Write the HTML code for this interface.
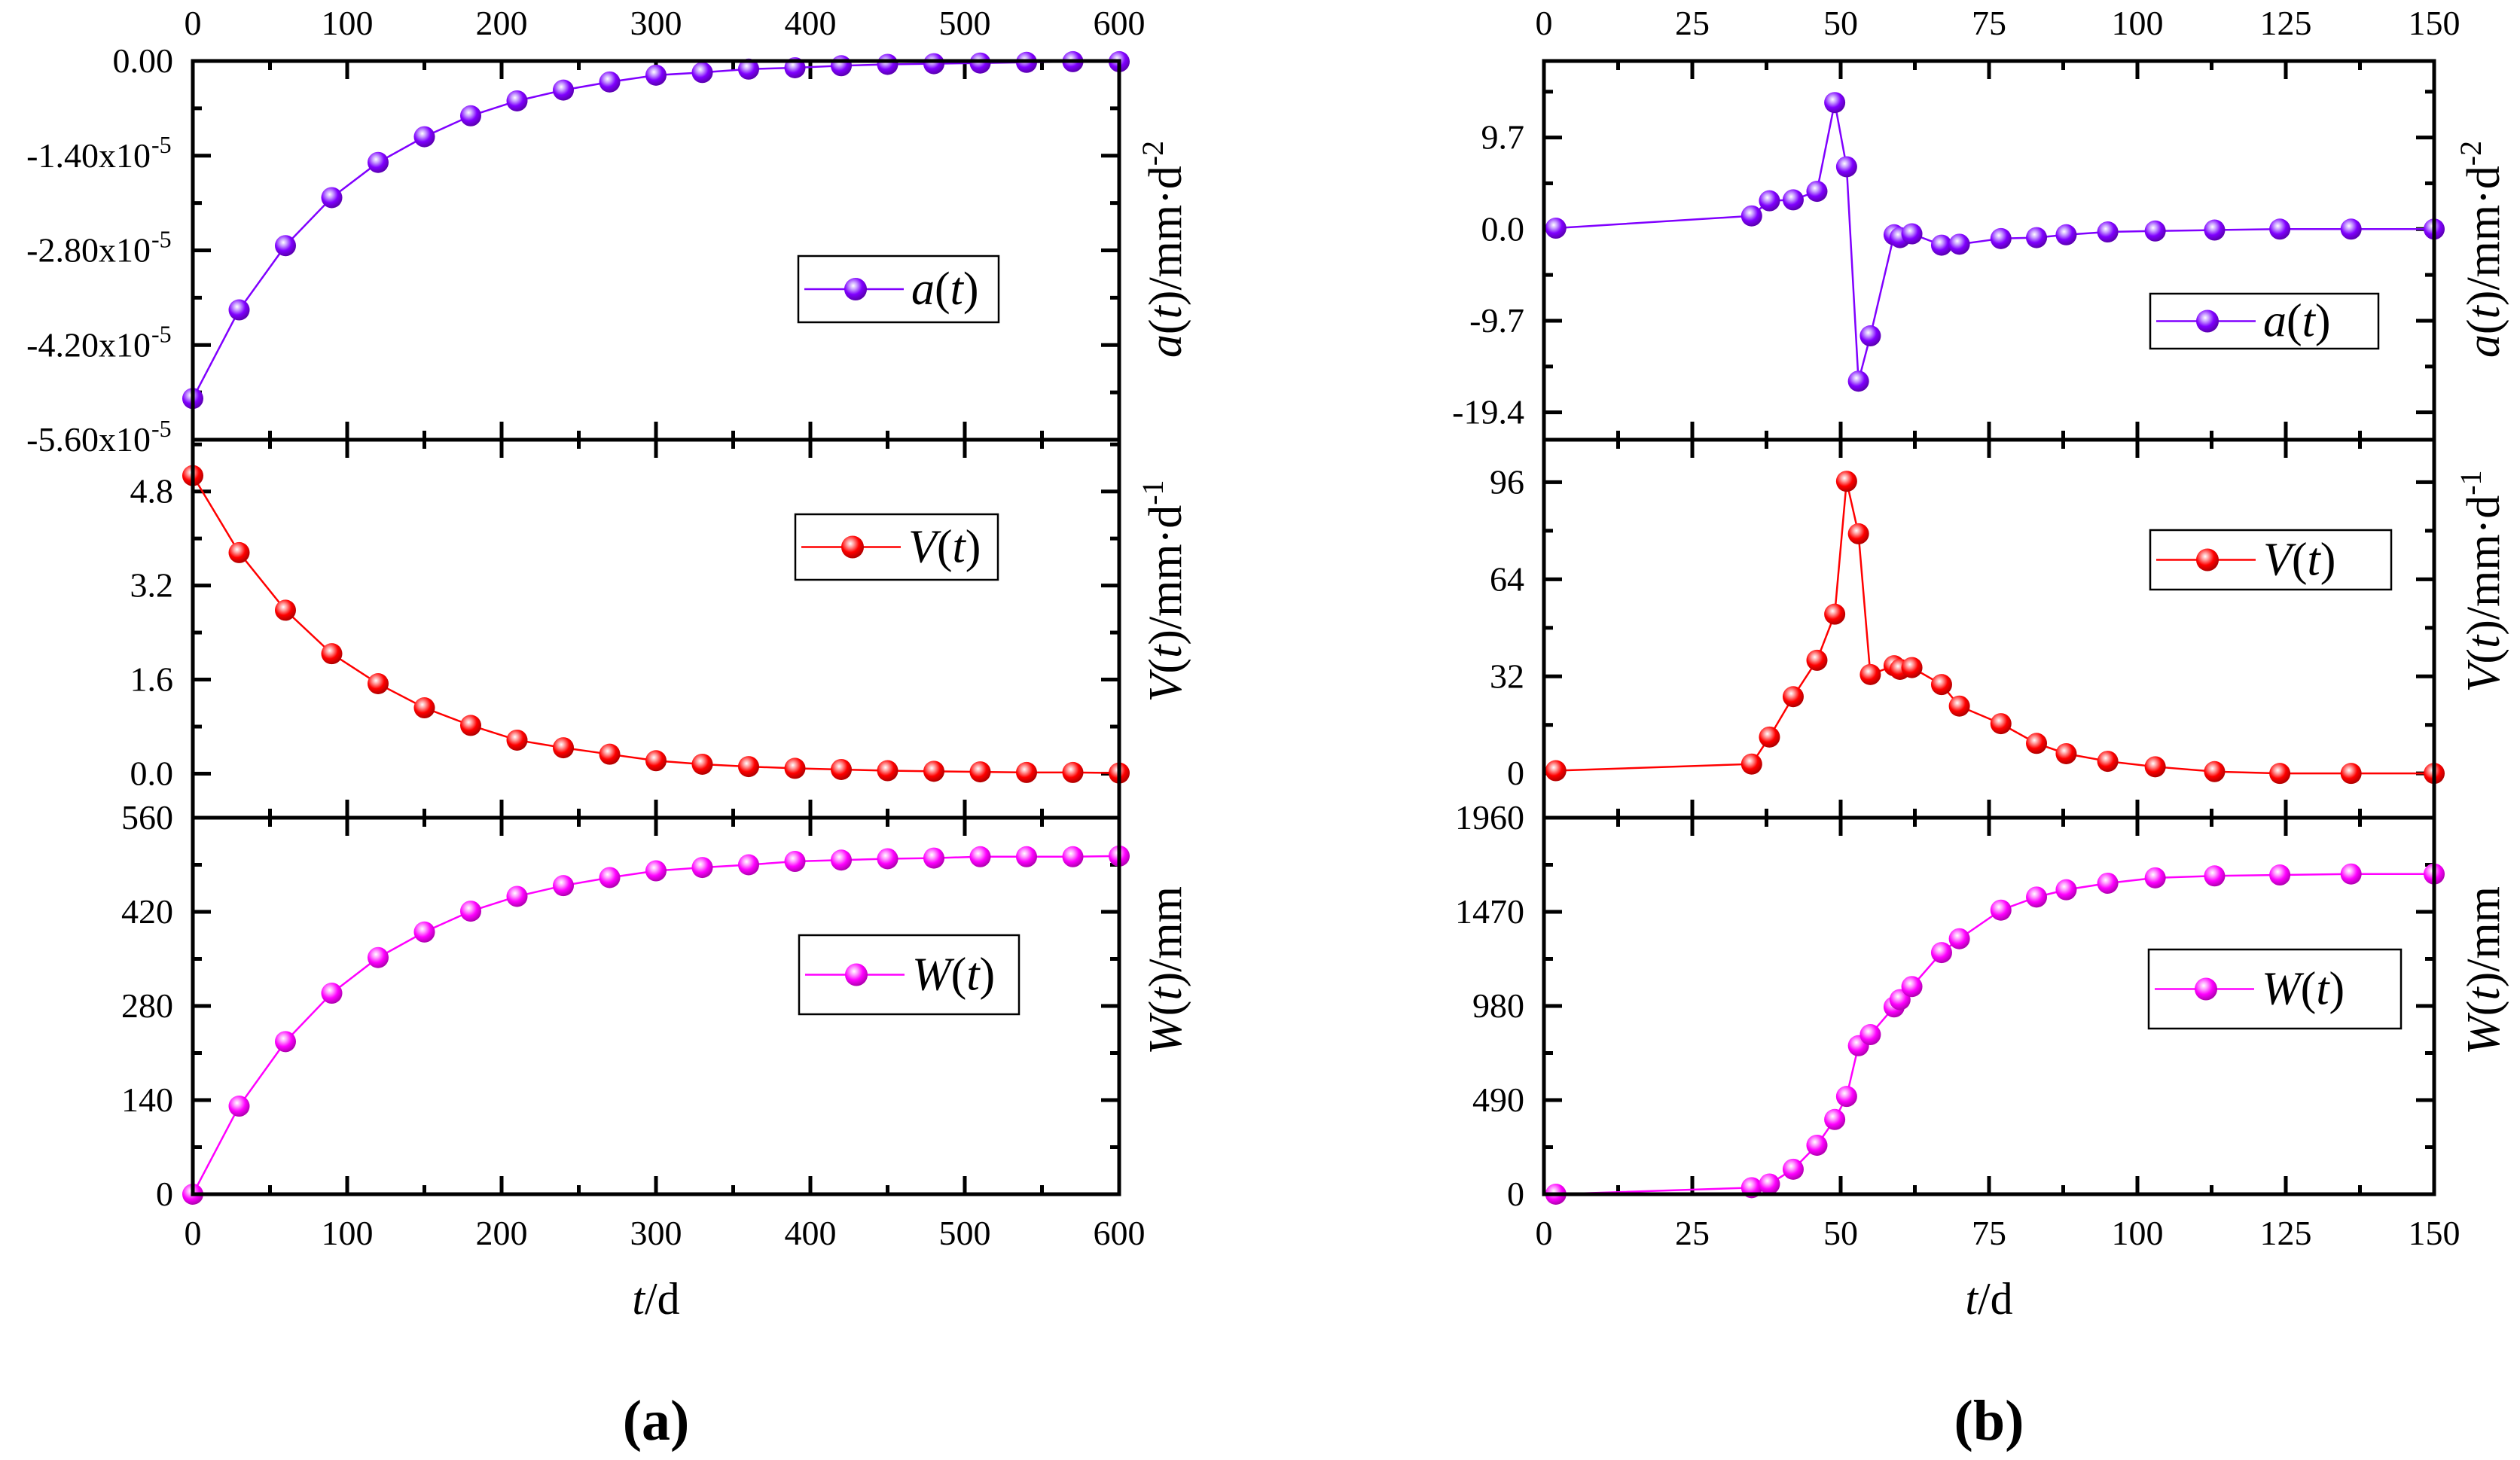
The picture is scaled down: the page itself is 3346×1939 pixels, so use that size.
<!DOCTYPE html>
<html><head><meta charset="utf-8"><style>
html,body{margin:0;padding:0;background:#fff}
svg{display:block}
svg text{font-family:"Liberation Serif","DejaVu Serif","Times New Roman",serif;fill:#000}
</style></head><body>
<svg id="fig" width="3346" height="1939" viewBox="0 0 3346 1939" xmlns="http://www.w3.org/2000/svg">
<defs>
<radialGradient id="gP" cx="0.4" cy="0.35" r="0.65"><stop offset="0" stop-color="#fff"/><stop offset="0.25" stop-color="#c9a0ff"/><stop offset="0.6" stop-color="#8000ff"/><stop offset="1" stop-color="#5a00b0"/></radialGradient>
<radialGradient id="gR" cx="0.4" cy="0.35" r="0.65"><stop offset="0" stop-color="#fff"/><stop offset="0.25" stop-color="#ff9a9a"/><stop offset="0.6" stop-color="#ff0000"/><stop offset="1" stop-color="#b00000"/></radialGradient>
<radialGradient id="gM" cx="0.4" cy="0.35" r="0.65"><stop offset="0" stop-color="#fff"/><stop offset="0.25" stop-color="#ffa0ff"/><stop offset="0.6" stop-color="#ff00ff"/><stop offset="1" stop-color="#b000b0"/></radialGradient>
</defs>
</svg>
<script>
// ---- data, panel (a) ----
const tA = [0,30,60,90,120,150,180,210,240,270,300,330,360,390,420,450,480,510,540,570,600];
const aA = [-4.99,-3.68,-2.73,-2.02,-1.50,-1.12,-0.81,-0.59,-0.43,-0.31,-0.21,-0.17,-0.12,-0.10,-0.07,-0.05,-0.04,-0.03,-0.02,-0.01,-0.01];
const vA = [5.07,3.76,2.78,2.04,1.53,1.12,0.82,0.57,0.44,0.33,0.22,0.16,0.12,0.09,0.07,0.05,0.04,0.03,0.02,0.02,0.01];
const wA = [0,131,227,299,352,390,421,443,459,471,481,486,490,495,497,499,500,502,502,502,503];
// ---- data, panel (b) ----
const tB = [2,35,38,42,46,49,51,53,55,59,60,62,67,70,77,83,88,95,103,113,124,136,150];
const aB = [0.1,1.4,3.0,3.1,4.0,13.4,6.6,-16.1,-11.3,-0.6,-0.9,-0.5,-1.7,-1.6,-1.0,-0.9,-0.6,-0.3,-0.2,-0.1,0,0,0];
const vB = [0.9,3.1,12,25.3,37.3,52.5,96.3,79,32.6,35.5,34.3,34.9,29.3,22.2,16.4,9.9,6.5,4.0,2.2,0.6,0,0,0];
const wB = [0,34,53,130,255,389,509,773,831,975,1013,1081,1258,1330,1479,1547,1585,1619,1647,1657,1662,1667,1667];
// tick labels
const xTicksA = [0,100,200,300,400,500,600];
const xTicksB = [0,25,50,75,100,125,150];
const aTicksA = [0,-1.4,-2.8,-4.2,-5.6];
const aTickLabelsA = ["0.00","-1.40x10","-2.80x10","-4.20x10","-5.60x10"];
const vTicksA = [0,1.6,3.2,4.8];
const vTickLabelsA = ["0.0","1.6","3.2","4.8"];
const wTicksA = [0,140,280,420,560];
const aTicksB = [-19.4,-9.7,0,9.7];
const aTickLabelsB = ["-19.4","-9.7","0.0","9.7"];
const vTicksB = [0,32,64,96];
const wTicksB = [0,490,980,1470,1960];

const svg = document.getElementById('fig');
const NS = 'http://www.w3.org/2000/svg';
const FF = '"Liberation Serif", "DejaVu Serif", "Times New Roman", serif';
function mk(tag, attrs, parent){const e=document.createElementNS(NS,tag);for(const k in attrs)e.setAttribute(k,attrs[k]);if(tag==='text')e.style.fontFamily=FF;(parent||svg).appendChild(e);return e;}

const Y = [81,584,1086,1586];
const panels = [
 {x0:256,x1:1486,xmin:0,xmax:600,xt:xTicksA,xminor:50,lblX:230,titleX:1568,name:'a',
  rows:[
   {key:'acc',ymin:-5.6,ymax:0,ticks:aTicksA,labels:aTickLabelsA,sup:true,minor:0.7,data:aA,col:'#8000ff',g:'gP',leg:[1060,340,1326,428],legText:'a',title:['a','/mm·d','-2'],ty:331},
   {key:'vel',ymin:-0.75,ymax:5.68,ticks:vTicksA,labels:vTickLabelsA,minor:0.8,data:vA,col:'#ff0000',g:'gR',leg:[1056,683,1325,770],legText:'V',title:['V','/mm·d','-1'],ty:785},
   {key:'disp',ymin:0,ymax:560,ticks:wTicksA,labels:wTicksA.map(String),minor:70,data:wA,col:'#ff00ff',g:'gM',leg:[1061,1242,1353,1347],legText:'W',title:['W','/mm',''],ty:1289}
  ], t:tA},
 {x0:2050,x1:3232,xmin:0,xmax:150,xt:xTicksB,xminor:12.5,lblX:2024,titleX:3318,name:'b',
  rows:[
   {key:'acc',ymin:-22.3,ymax:17.8,ticks:aTicksB,labels:aTickLabelsB,minor:4.85,data:aB,col:'#8000ff',g:'gP',leg:[2855,390,3158,463],legText:'a',title:['a','/mm·d','-2'],ty:331},
   {key:'vel',ymin:-14.6,ymax:110,ticks:vTicksB,labels:vTicksB.map(String),minor:16,data:vB,col:'#ff0000',g:'gR',leg:[2855,704,3175,783],legText:'V',title:['V','/mm·d','-1'],ty:772},
   {key:'disp',ymin:0,ymax:1960,ticks:wTicksB,labels:wTicksB.map(String),minor:245,data:wB,col:'#ff00ff',g:'gM',leg:[2853,1261,3188,1366],legText:'W',title:['W','/mm',''],ty:1289}
  ], t:tB}
];

panels.forEach(p=>{
  const sx = v => p.x0 + (v-p.xmin)/(p.xmax-p.xmin)*(p.x1-p.x0);
  const pg = mk('g',{});
  
  
  p.rows.forEach((r,i)=>{
    const top=Y[i], bot=Y[i+1];
    const sy = v => bot - (v-r.ymin)/(r.ymax-r.ymin)*(bot-top);
    const g = mk('g',{},pg);
    
    
    for(let v=p.xmin; v<=p.xmax+1e-9; v+=p.xminor){
      const major = p.xt.some(t=>Math.abs(t-v)<1e-6);
      const L = major?24:12;
      mk('line',{x1:sx(v),x2:sx(v),y1:bot,y2:bot-L,stroke:'#000','stroke-width':5},g);
      mk('line',{x1:sx(v),x2:sx(v),y1:top,y2:top+L,stroke:'#000','stroke-width':5},g);
    }
    const start = Math.ceil((r.ymin-1e-9)/r.minor)*r.minor;
    for(let v=start; v<=r.ymax+1e-9; v+=r.minor){
      const major = r.ticks.some(t=>Math.abs(t-v)<1e-6);
      const L = major?24:12; const y=sy(v);
      mk('line',{x1:p.x0,x2:p.x0+L,y1:y,y2:y,stroke:'#000','stroke-width':5},g);
      mk('line',{x1:p.x1,x2:p.x1-L,y1:y,y2:y,stroke:'#000','stroke-width':5},g);
    }
    r.ticks.forEach((v,k)=>{
      const tx = mk('text',{x:p.lblX - (r.sup && k>0?30:0),y:sy(v)+15,'text-anchor':'end','font-size':46},g);
      tx.textContent = r.labels[k];
      
      
      if(r.sup && k>0){
        const s = mk('text',{x:p.lblX-29,y:sy(v)-4,'text-anchor':'start','font-size':32},g);
        s.textContent='-5';
        
        
      }
    });
    const pts = p.t.map((t,k)=>sx(t)+','+sy(r.data[k])).join(' ');
    const pl = mk('polyline',{points:pts,fill:'none',stroke:r.col,'stroke-width':2.5},g);
    
    
    p.t.forEach((t,k)=>{
      const c = mk('circle',{cx:sx(t),cy:sy(r.data[k]),r:14,fill:'url(#'+r.g+')'},g);
      
      
    });
    const [lx0,ly0,lx1,ly1]=r.leg; const lg = mk('g',{},g);
    
    
    mk('rect',{x:lx0,y:ly0,width:lx1-lx0,height:ly1-ly0,fill:'#fff',stroke:'#000','stroke-width':2.5},lg);
    const cy=(ly0+ly1)/2;
    mk('line',{x1:lx0+8,x2:lx0+140,y1:cy,y2:cy,stroke:r.col,'stroke-width':2.5},lg);
    mk('circle',{cx:lx0+76,cy:cy,r:15,fill:'url(#'+r.g+')'},lg);
    const lt = mk('text',{x:lx0+150,y:cy+20,'font-size':62},lg);
    lt.innerHTML = '<tspan font-style="italic">'+r.legText+'</tspan>(<tspan font-style="italic">t</tspan>)';
    const at = mk('text',{transform:'translate('+p.titleX+','+r.ty+') rotate(-90)','text-anchor':'middle','font-size':62},g);
    at.innerHTML = '<tspan font-style="italic">'+r.title[0]+'</tspan>(<tspan font-style="italic">t</tspan>)'+r.title[1]+(r.title[2]?'<tspan font-size="40" dy="-24">'+r.title[2]+'</tspan>':'');
    
    
    mk('rect',{x:p.x0,y:top,width:p.x1-p.x0,height:bot-top,fill:'none',stroke:'#000','stroke-width':5},g);
  });
  p.xt.forEach(v=>{
    const b = mk('text',{x:sx(v),y:1653,'text-anchor':'middle','font-size':46},pg);
    b.textContent=v;
    
    
    const t = mk('text',{x:sx(v),y:46,'text-anchor':'middle','font-size':46},pg);
    t.textContent=v;
    
    
  });
  const xt = mk('text',{x:(p.x0+p.x1)/2,y:1745,'text-anchor':'middle','font-size':60},pg);
  xt.innerHTML='<tspan font-style="italic">t</tspan>/d';
  
  
  const cap = mk('text',{x:(p.x0+p.x1)/2,y:1912,'text-anchor':'middle','font-size':76,'font-weight':'bold'},pg);
  cap.textContent='('+p.name+')';
  
  
});
</script>
</body></html>
